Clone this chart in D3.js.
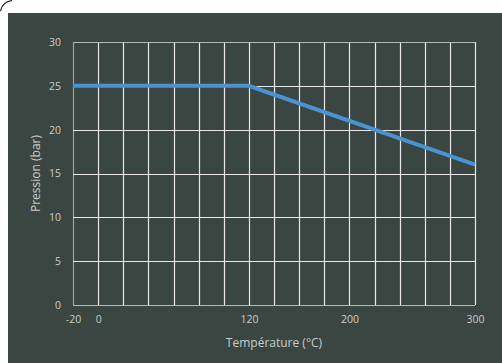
<!DOCTYPE html>
<html><head><meta charset="utf-8">
<script src="https://cdn.jsdelivr.net/npm/d3@7"></script>
<style>html,body{margin:0;padding:0;background:#fff;}svg{display:block;}</style>
</head><body>
<script>
const temps = [-20, 120, 300];
const pressures = [25, 25, 16];
const xTicks = [-20, 0, 120, 200, 300];
const yTicks = [0, 5, 10, 15, 20, 25, 30];
const xGrid = d3.range(-20, 301, 20);

const W = 502, H = 363;
const svg = d3.select("body").append("svg").attr("width", W).attr("height", H);
svg.append("rect").attr("x", 8).attr("y", 13).attr("width", W - 8).attr("height", H - 13).attr("fill", "#3a4642");
svg.append("path").attr("d", "M0.5,11 Q2,2 12,0.5").attr("fill", "none").attr("stroke", "#222").attr("stroke-width", 1.2);

const m = {l: 73, r: 475, t: 42, b: 305};
const x = d3.scaleLinear().domain([-20, 300]).range([m.l, m.r]);
const y = d3.scaleLinear().domain([0, 30]).range([m.b, m.t]);

const g = svg.append("g");
g.selectAll(".vg").data(xGrid).join("line")
  .attr("x1", d => Math.round(x(d)) + 0.5).attr("x2", d => Math.round(x(d)) + 0.5)
  .attr("y1", m.t).attr("y2", m.b)
  .attr("stroke", d => d === -20 ? "#9aa09d" : "#e8e8e8").attr("stroke-width", 1.2);
g.selectAll(".hg").data(yTicks).join("line")
  .attr("x1", m.l).attr("x2", m.r)
  .attr("y1", d => Math.round(y(d)) + 0.5).attr("y2", d => Math.round(y(d)) + 0.5)
  .attr("stroke", d => (d === 30 || d === 0) ? "#b5bab7" : "#e8e8e8").attr("stroke-width", 1.2);

const font = "'Open Sans', 'Noto Sans', sans-serif";
const fmt = d => String(d);
const xAxis = d3.axisBottom(x).tickValues(xTicks).tickFormat(fmt).tickSize(0).tickPadding(11);
svg.append("g").attr("transform", `translate(0,${m.b})`).call(xAxis)
  .call(s => s.select(".domain").remove())
  .selectAll("text").attr("fill", "#c9ccca").style("font-family", font).style("font-size", "10.5px");
const yAxis = d3.axisLeft(y).tickValues(yTicks).tickFormat(fmt).tickSize(0).tickPadding(12);
svg.append("g").attr("transform", `translate(${m.l},0)`).call(yAxis)
  .call(s => s.select(".domain").remove())
  .selectAll("text").attr("fill", "#c9ccca").style("font-family", font).style("font-size", "10.5px");

const line = d3.line().x((d, i) => x(temps[i])).y(d => y(d));
svg.append("path").datum(pressures).attr("d", line)
  .attr("fill", "none").attr("stroke", "#4a92d2").attr("stroke-width", 4).attr("stroke-linejoin", "miter");

svg.append("text").attr("x", (m.l + m.r) / 2).attr("y", 347).attr("text-anchor", "middle")
  .attr("fill", "#c9ccca").style("font-family", font).style("font-size", "12px").text("Température (°C)");
svg.append("text").attr("transform", `translate(40,${(m.t + m.b) / 2}) rotate(-90)`).attr("text-anchor", "middle")
  .attr("fill", "#c9ccca").style("font-family", font).style("font-size", "12px").text("Pression (bar)");
</script>
</body></html>
